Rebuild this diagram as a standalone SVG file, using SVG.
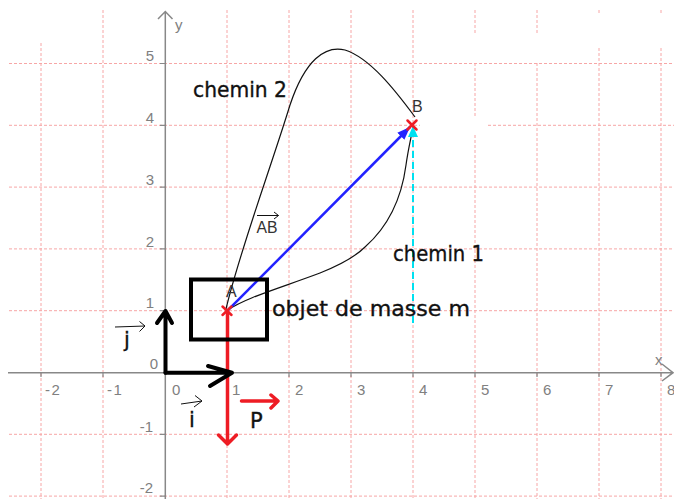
<svg xmlns="http://www.w3.org/2000/svg" width="674" height="499" viewBox="0 0 674 499">
<defs>
<style>
.grid{stroke:#f7a6a6;stroke-width:1;stroke-dasharray:3,2;fill:none}
.axis{stroke:#888;stroke-width:1.5;fill:none}
.tk{stroke:#888;stroke-width:1.2}
.num{font-family:"Liberation Sans",Arial,sans-serif;font-size:15px;fill:#808080}
.big{font-family:"DejaVu Sans","Liberation Sans",sans-serif;font-size:21px;fill:#111;stroke:#111;stroke-width:0.35}
.pt{font-family:"Liberation Sans",Arial,sans-serif;font-size:16px;fill:#333}
.curve{stroke:#111;stroke-width:1.2;fill:none}
.thick{stroke:#000;stroke-width:4;fill:none;stroke-linecap:round;stroke-linejoin:round}
.redv{stroke:#ee1c24;stroke-width:3.5;fill:none;stroke-linecap:round;stroke-linejoin:round}
.cross{stroke:#ee1c24;stroke-width:2.5;stroke-linecap:round}
.thin{stroke:#111;stroke-width:1;fill:none}
</style>
<marker id="bh" markerUnits="userSpaceOnUse" markerWidth="14" markerHeight="10" refX="13" refY="5" orient="auto">
<path d="M0,0 L13,5 L0,10 Z" fill="#2222ff"/>
</marker>
<marker id="ch" markerUnits="userSpaceOnUse" markerWidth="12" markerHeight="10" refX="11" refY="5" orient="auto">
<path d="M0,0 L11,5 L0,10 Z" fill="#00e0f0"/>
</marker>
</defs>
<rect width="674" height="499" fill="#fff"/>
<g id="grid">
<path class="grid" d="M9,63.5H674 M9,125.3H420 M488,125.3H674 M9,187.1H674 M9,248.9H674 M9,310.7H674 M9,434.3H674 M9,496.1H674"/>
<path class="grid" d="M41,43V499 M103,10V499 M227,10V499 M289,10V499 M351,10V499 M413,10V499 M475,10V33 M475,63V117 M475,135V499 M537,10V33 M537,63V499 M599,10V13 M599,48V499 M661,10V13 M661,48V499"/>
</g>
<g id="axes">
<path class="axis" d="M8,372.7H673 M662,364L673,372.7L662,381"/>
<path class="axis" d="M165.3,499V12 M158,19L165.3,11.5L172.5,19"/>
<path class="tk" d="M41,372.7V377 M103,372.7V377 M227,372.7V377 M289,372.7V377 M351,372.7V377 M413,372.7V377 M475,372.7V377 M537,372.7V377 M599,372.7V377 M661,372.7V377"/>
<path class="tk" d="M160,63.5H165.3 M160,125.3H165.3 M160,187.1H165.3 M160,248.9H165.3 M160,310.7H165.3 M160,434.3H165.3 M160,496.1H165.3"/>
<text class="num" x="655" y="365" font-size="13">x</text>
<text class="num" x="175" y="30" font-size="14">y</text>
<g class="num" text-anchor="end">
<text x="154" y="61">5</text>
<text x="154" y="123">4</text>
<text x="154" y="185">3</text>
<text x="154" y="247">2</text>
<text x="154" y="308">1</text>
<text x="158" y="369">0</text>
<text x="153" y="432">-1</text>
<text x="153" y="493">-2</text>
</g>
<g class="num">
<text x="45" y="395" letter-spacing="1.5">-2</text>
<text x="107" y="395" letter-spacing="1.5">-1</text>
<text x="172" y="395">0</text>
<text x="232" y="395">1</text>
<text x="295" y="395">2</text>
<text x="357" y="395">3</text>
<text x="419" y="395">4</text>
<text x="481" y="395">5</text>
<text x="543" y="395">6</text>
<text x="605" y="395">7</text>
<text x="667" y="395">8</text>
</g>
</g>
<g id="connectors">
<path id="chemin2-path" class="curve" d="M226,309 C240,250 270,170 290,105 C305,60 325,45 345,50 C370,58 395,90 415,117"/>
<path id="chemin1-path" class="curve" d="M228,310 C245,298 280,288 320,273 C340,265 355,257 365,247 C390,225 402,195 406,165 C408,150 411,138 413,127"/>
<line id="vecAB" x1="227.5" y1="310.7" x2="410" y2="127" stroke="#2222ff" stroke-width="2.5" marker-end="url(#bh)"/>
<line id="cyan" x1="413" y1="323" x2="413" y2="126" stroke="#00e0f0" stroke-width="2" stroke-dasharray="7,4" marker-end="url(#ch)"/>
<path id="vecP" class="redv" d="M227.5,311V444 M218.5,435L227.5,444L236.5,435"/>
<path id="vecj" class="thick" d="M165.5,372.7V311 M157,323L165.5,311L172,323"/>
<path id="veci" class="thick" d="M165.5,372.7H232 M208,366L232,372.7L210,386"/>
</g>
<g id="objet">
<rect x="191" y="279.5" width="76" height="60" fill="none" stroke="#000" stroke-width="4"/>
<text class="big" x="272" y="316" textLength="198" lengthAdjust="spacingAndGlyphs">objet de masse m</text>
</g>
<g id="pointA">
<path class="cross" d="M222.5,306.5L231.5,315 M231.5,306.5L222.5,315"/>
<text class="pt" x="226" y="297">A</text>
</g>
<g id="pointB">
<path class="cross" d="M407.5,120.5L416.5,129.5 M416.5,120.5L407.5,129.5"/>
<text class="pt" x="412" y="112">B</text>
</g>
<g id="label-chemin2">
<text class="big" x="193" y="97" textLength="94" lengthAdjust="spacingAndGlyphs">chemin 2</text>
</g>
<g id="label-chemin1">
<text class="big" x="393" y="261" textLength="91" lengthAdjust="spacingAndGlyphs">chemin 1</text>
</g>
<g id="label-AB">
<path class="thin" d="M257,215.5H278.5 M274,212L278.5,215.5L274,219"/>
<text class="pt" x="256.5" y="233" font-size="14" textLength="21" lengthAdjust="spacingAndGlyphs">AB</text>
</g>
<g id="label-i">
<path class="thin" d="M181,404L202,401 M195,395.5L202,401L194,407"/>
<text class="big" x="189" y="427" font-size="22" fill="#111133">i</text>
</g>
<g id="label-j">
<path class="thin" d="M115,327L145,326 M139.5,321.5L145,326L139.5,331.5"/>
<text class="big" x="124" y="347" font-size="22" fill="#111133">j</text>
</g>
<g id="label-P">
<path class="redv" stroke-width="4" d="M241.5,401H277 M271,395L278,401L271,408"/>
<text class="big" x="250" y="428" font-size="22" fill="#ee1c24" stroke="#ee1c24">P</text>
</g>
</svg>
